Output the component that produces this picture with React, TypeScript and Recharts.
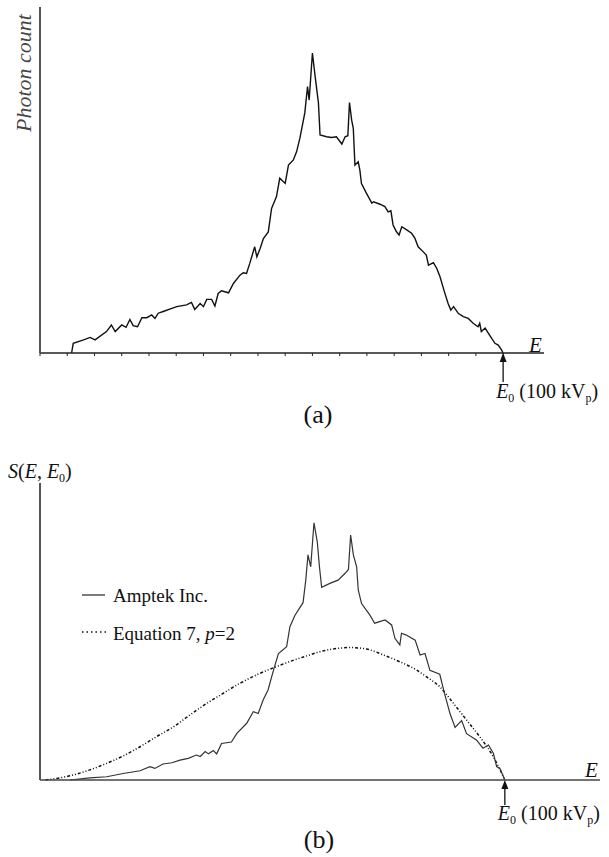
import React from 'react';
import { LineChart, Line, XAxis, YAxis, ReferenceDot } from 'recharts';

// (a) measured spectrum: energy in kV, photon count in % of plot height
const energyA = [20.8, 21.1, 23.0, 24.2, 25.1, 27.2, 28.1, 28.8, 30.0, 30.8, 31.5, 32.1, 32.9, 33.7, 34.6, 35.5, 36.1, 36.7, 37.6, 39.2, 40.1, 41.9, 42.8, 43.4, 44.4, 45.0, 45.6, 46.5, 47.1, 47.7, 48.3, 49.6, 50.5, 51.7, 52.3, 52.9, 53.5, 54.4, 54.8, 55.4, 56.0, 56.9, 57.5, 58.4, 59.0, 60.0, 60.6, 61.5, 62.1, 62.7, 63.6, 64.1, 64.4, 65.0, 65.5, 66.1, 66.4, 67.6, 68.5, 69.4, 70.4, 71.0, 71.5, 71.8, 72.2, 72.5, 72.8, 73.4, 73.7, 74.0, 74.9, 75.9, 76.2, 77.4, 78.3, 78.9, 79.4, 79.8, 80.4, 80.9, 81.4, 82.3, 83.2, 83.8, 84.4, 85.3, 85.9, 86.3, 87.2, 87.8, 88.4, 89.3, 89.9, 90.4, 90.9, 91.8, 92.7, 93.6, 94.5, 95.4, 95.7, 96.0, 96.7, 97.3, 97.9, 98.5, 99.1, 99.7, 100];
const countA = [0, 2.8, 3.8, 4.5, 3.8, 6.2, 8.1, 6.2, 8.1, 7.4, 9.7, 7.9, 7.6, 10.2, 10.2, 11.0, 10.0, 11.5, 12.0, 12.9, 13.4, 13.9, 14.6, 12.6, 14.3, 13.4, 15.5, 15.5, 13.6, 17.2, 18.0, 17.4, 20.1, 22.5, 23.2, 23.0, 25.9, 30.7, 27.8, 30.2, 33.1, 35.0, 41.8, 45.2, 50.5, 49.0, 54.3, 55.8, 58.2, 62.1, 69.4, 77.0, 73.1, 86.7, 79.9, 72.3, 63.0, 62.5, 62.3, 62.5, 60.4, 62.5, 62.8, 72.4, 67.3, 64.9, 54.3, 55.3, 52.9, 49.0, 46.2, 43.3, 43.7, 43.0, 42.3, 40.8, 41.1, 37.0, 35.1, 34.1, 36.5, 35.6, 34.6, 33.2, 30.7, 29.3, 28.3, 25.4, 26.1, 24.5, 22.1, 17.3, 14.3, 12.4, 13.4, 11.4, 10.5, 10.0, 8.6, 7.6, 8.6, 6.2, 7.2, 5.7, 4.2, 2.8, 2.3, 0.9, 0];
const ticksA = [15, 20, 25, 30, 35, 40, 45, 50, 55, 60, 65, 70, 75, 80, 85, 90, 95, 100];

// (b) Amptek spectrum vs Equation 7 (p=2)
const energyB = [20.5, 24.1, 27.2, 30.2, 33.3, 35.1, 36.0, 37.5, 39.1, 40.6, 42.1, 43.6, 44.3, 45.2, 45.8, 46.7, 47.3, 48.2, 50.0, 51.0, 52.8, 54.0, 54.9, 55.8, 56.7, 57.7, 58.6, 60.1, 60.7, 61.6, 63.1, 63.6, 64.0, 64.5, 65.1, 65.7, 66.1, 66.5, 68.0, 69.5, 70.8, 71.4, 71.8, 72.3, 72.9, 73.2, 73.8, 75.3, 76.2, 78.1, 79.3, 79.9, 80.8, 81.1, 82.0, 83.6, 84.5, 85.4, 86.3, 88.1, 89.0, 90.0, 90.9, 92.1, 93.0, 94.8, 96.0, 97.0, 97.9, 98.5, 99.1, 100];
const amptekB = [0, 0.7, 1.1, 2.2, 3.1, 4.5, 3.9, 5.4, 5.8, 6.7, 7.3, 8.4, 7.9, 9.6, 8.8, 9.9, 8.8, 12.3, 12.8, 15.7, 19.1, 23.0, 22.4, 26.9, 30.3, 37.0, 42.6, 44.9, 51.6, 55.4, 59.7, 67.3, 75.8, 71.8, 86.6, 80.2, 71.8, 64.9, 66.2, 67.3, 69.6, 70.9, 82.5, 75.8, 71.8, 63.9, 59.4, 55.6, 52.8, 53.9, 52.2, 47.7, 45.5, 49.4, 48.8, 47.1, 42.1, 42.6, 36.9, 35.6, 28.9, 22.2, 17.7, 20.0, 15.6, 13.5, 10.7, 11.8, 9.0, 4.5, 3.9, 0];
const energyEq = [16, 21.1, 24.1, 27.2, 30.2, 33.3, 36.3, 39.4, 42.4, 45.5, 48.5, 51.6, 54.6, 58.0, 60.7, 63.8, 66.2, 68.6, 71.7, 74.7, 77.8, 80.8, 83.9, 85.7, 88.1, 90.6, 93.0, 95.4, 97.9, 100];
const eqB = [0, 1.7, 3.4, 5.6, 8.1, 11.2, 14.6, 17.9, 21.9, 25.8, 29.2, 32.6, 35.4, 38.0, 39.9, 41.8, 43.2, 44.1, 44.6, 44.1, 42.1, 39.8, 37.0, 34.7, 31.4, 25.8, 20.2, 14.6, 7.8, 0];

const E0 = 100;

const rowsA = energyA.map((e, i) => ({ e, v: countA[i] }));
const rowsAmptek = energyB.map((e, i) => ({ e, v: amptekB[i] }));
const rowsEq = energyEq.map((e, i) => ({ e, v: eqB[i] }));

const serif = '"Liberation Serif", "Times New Roman", Times, serif';
const txt = { fontFamily: serif };

function E0Marker(props: any) {
  const { cx, cy, stem, labelDy } = props;
  return (
    <g>
      <line x1={cx} y1={cy + 6} x2={cx} y2={cy + stem} stroke="#111" strokeWidth={1.3} />
      <path d={`M${cx},${cy} L${cx - 3.5},${cy + 9} L${cx + 3.5},${cy + 9} Z`} fill="#111" />
      <text x={cx - 7} y={cy + labelDy} style={txt} fontSize={20} fill="#111">
        <tspan fontStyle="italic">E</tspan>
        <tspan fontSize={12} dy={4}>0</tspan>
        <tspan dy={-4}>{' (100 kV'}</tspan>
        <tspan fontSize={12} dy={4}>p</tspan>
        <tspan dy={-4}>)</tspan>
      </text>
    </g>
  );
}

export default function App() {
  return (
    <div style={{ position: 'absolute', left: 0, top: 0, width: 609, height: 857, background: '#fff' }}>
      <div style={{ position: 'absolute', left: 0, top: 0 }}>
        <LineChart width={609} height={430} data={rowsA} margin={{ top: 7, right: 65, bottom: 67, left: 30 }}>
          <XAxis
            dataKey="e"
            type="number"
            domain={[15, 107.5]}
            ticks={ticksA}
            height={10}
            tickSize={3}
            tickFormatter={() => ''}
            axisLine={{ stroke: '#222', strokeWidth: 1.5 }}
            tickLine={{ stroke: '#222' }}
          />
          <YAxis
            type="number"
            domain={[0, 100]}
            width={10}
            tick={false}
            tickLine={false}
            axisLine={{ stroke: '#555', strokeWidth: 2 }}
          />
          <Line
            dataKey="v"
            type="linear"
            stroke="#111"
            strokeWidth={1.4}
            dot={false}
            isAnimationActive={false}
          />
          <ReferenceDot
            x={E0}
            y={0}
            ifOverflow="visible"
            shape={(p: any) => <E0Marker {...p} stem={29} labelDy={45} />}
          />
        </LineChart>
      </div>
      <div style={{ position: 'absolute', left: 0, top: 440 }}>
        <LineChart width={609} height={417} margin={{ top: 43, right: 9, bottom: 67, left: 30 }}>
          <XAxis
            dataKey="e"
            type="number"
            domain={[15, 117.4]}
            height={10}
            tick={false}
            tickLine={false}
            axisLine={{ stroke: '#444', strokeWidth: 1.5 }}
          />
          <YAxis
            type="number"
            domain={[0, 100]}
            width={10}
            tick={false}
            tickLine={false}
            axisLine={{ stroke: '#555', strokeWidth: 2 }}
          />
          <Line
            data={rowsEq}
            dataKey="v"
            type="monotone"
            stroke="#111"
            strokeWidth={1.5}
            strokeDasharray="3 2 1 2 1 2"
            dot={false}
            isAnimationActive={false}
          />
          <Line
            data={rowsAmptek}
            dataKey="v"
            type="linear"
            stroke="#333"
            strokeWidth={1.2}
            dot={false}
            isAnimationActive={false}
          />
          <ReferenceDot
            x={E0}
            y={0}
            ifOverflow="visible"
            shape={(p: any) => <E0Marker {...p} stem={25} labelDy={40} />}
          />
        </LineChart>
      </div>
      <svg
        width={609}
        height={857}
        style={{ position: 'absolute', left: 0, top: 0, pointerEvents: 'none' }}
      >
        <text
          x={31}
          y={73}
          transform="rotate(-90, 31, 73)"
          textAnchor="middle"
          fontStyle="italic"
          fontSize={22}
          fill="#444"
          style={txt}
        >
          Photon count
        </text>
        <text x={529} y={352} fontStyle="italic" fontSize={21} fill="#111" style={txt}>E</text>
        <text x={318} y={423} textAnchor="middle" fontSize={26} fill="#111" style={txt}>(a)</text>

        <text x={8} y={478} fontSize={20} fill="#111" style={txt}>
          <tspan fontStyle="italic">S</tspan>
          <tspan>(</tspan>
          <tspan fontStyle="italic">E</tspan>
          <tspan>, </tspan>
          <tspan fontStyle="italic">E</tspan>
          <tspan fontSize={12} dy={4}>0</tspan>
          <tspan dy={-4}>)</tspan>
        </text>
        <text x={585} y={777} fontStyle="italic" fontSize={21} fill="#111" style={txt}>E</text>

        <line x1={82} y1={595} x2={105} y2={595} stroke="#333" strokeWidth={1.3} />
        <text x={113} y={602} fontSize={19} fill="#111" style={txt}>Amptek Inc.</text>
        <line x1={82} y1={632} x2={106} y2={632} stroke="#111" strokeWidth={1.4} strokeDasharray="1.5 3" />
        <text x={113} y={640} fontSize={19} fill="#111" style={txt}>
          <tspan>Equation 7, </tspan>
          <tspan fontStyle="italic">p</tspan>
          <tspan>=2</tspan>
        </text>
        <text x={319} y={848} textAnchor="middle" fontSize={26} fill="#111" style={txt}>(b)</text>
      </svg>
    </div>
  );
}
